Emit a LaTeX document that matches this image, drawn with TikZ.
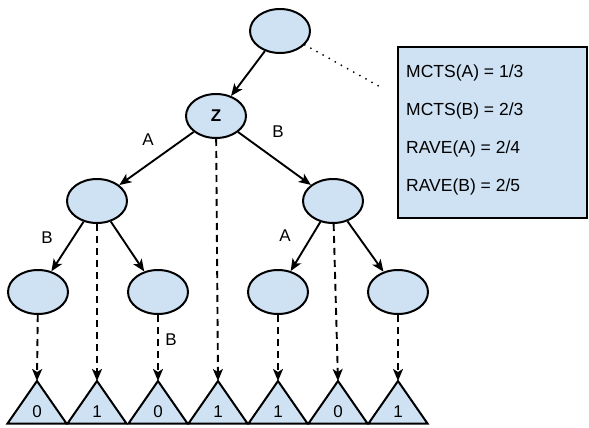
\documentclass[tikz,border=0pt]{standalone}
\usepackage{fontspec}
\setmainfont{Liberation Sans}
\usetikzlibrary{arrows.meta,shapes.geometric}
\definecolor{nodeblue}{HTML}{CFE2F3}
\begin{document}
\begin{tikzpicture}[x=1pt,y=-1pt,
  tnode/.style={ellipse,draw,line width=2pt,fill=nodeblue,minimum width=60pt,minimum height=44pt,inner sep=0pt},
  sedge/.style={line width=1.9pt,-{Stealth[length=12pt,width=10pt,inset=3pt]}},
  dedge/.style={line width=1.9pt,dash pattern=on 7pt off 5pt,-{Stealth[length=12pt,width=10pt,inset=3pt]}},
  elabel/.style={font=\fontsize{17}{19}\selectfont,inner sep=0pt},
  tri/.style={draw,line width=2pt,fill=nodeblue,line join=miter},
  trilabel/.style={font=\fontsize{17}{19}\selectfont,inner sep=0pt},
  boxtext/.style={font=\fontsize{17.5}{19}\selectfont,anchor=west,inner sep=0pt}
]
\useasboundingbox (0,0) rectangle (589,428);
% tree nodes
\node[tnode] (root) at (280,31) {};
\node[tnode] (z) at (216,116) {\fontsize{17}{19}\selectfont\bfseries Z};
\node[tnode] (l) at (97,201) {};
\node[tnode] (r) at (333,201) {};
\node[tnode] (la) at (38,292) {};
\node[tnode] (lb) at (158,292) {};
\node[tnode] (ra) at (278,292) {};
\node[tnode] (rb) at (398,292) {};
% triangles
\foreach \i/\x/\v in {1/37/0,2/97/1,3/158/0,4/218/1,5/278/1,6/338/0,7/398/1}{
  \coordinate (t\i) at (\x,381);
  \draw[tri] (t\i) -- ++(29.5,42.5) -- ++(-59,0) -- cycle;
  \node[trilabel] (tl\i) at (\x,412) {\v};
}
% info box
\node[draw,line width=1.8pt,fill=nodeblue,minimum width=189pt,minimum height=171pt,inner sep=0pt] (box) at (492.5,132.5) {};
\node[boxtext] (m1) at (406,73) {MCTS(A) = 1/3};
\node[boxtext] (m2) at (406,111) {MCTS(B) = 2/3};
\node[boxtext] (m3) at (406,149) {RAVE(A) = 2/4};
\node[boxtext] (m4) at (406,187) {RAVE(B) = 2/5};
\coordinate (dotend) at (384,89);
\draw[line width=2pt,line cap=round,dash pattern=on 0pt off 7pt] (root) -- (dotend);
% solid edges
\draw[sedge] (root) -- (z);
\draw[sedge] (z) -- (l);
\draw[sedge] (z) -- (r);
\draw[sedge] (l) -- (la);
\draw[sedge] (l) -- (lb);
\draw[sedge] (r) -- (ra);
\draw[sedge] (r) -- (rb);
% dashed edges
\draw[dedge] (la) -- (t1);
\draw[dedge] (l) -- (t2);
\draw[dedge] (lb) -- (t3);
\draw[dedge] (z) -- (t4);
\draw[dedge] (ra) -- (t5);
\draw[dedge] (r) -- (t6);
\draw[dedge] (rb) -- (t7);
% edge labels
\node[elabel] (lA1) at (148,140) {A};
\node[elabel] (lB1) at (278,132) {B};
\node[elabel] (lB2) at (47,238) {B};
\node[elabel] (lA2) at (285,236) {A};
\node[elabel] (lB3) at (171,340) {B};
\end{tikzpicture}
\end{document}
